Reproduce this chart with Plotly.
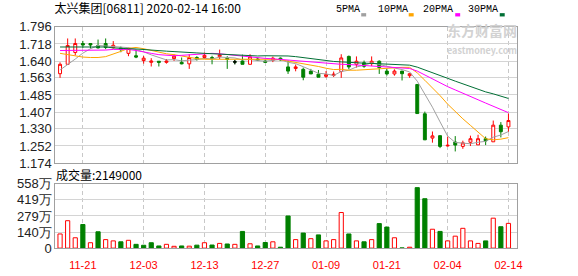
import plotly.graph_objects as go

# ---------------- data ----------------
dates = [
    "2019-11-18", "2019-11-19", "2019-11-20", "2019-11-21", "2019-11-22", "2019-11-25", "2019-11-26",
    "2019-11-27", "2019-11-28", "2019-11-29", "2019-12-02", "2019-12-03", "2019-12-04", "2019-12-05",
    "2019-12-06", "2019-12-09", "2019-12-10", "2019-12-11", "2019-12-12", "2019-12-13", "2019-12-16",
    "2019-12-17", "2019-12-18", "2019-12-19", "2019-12-20", "2019-12-23", "2019-12-24", "2019-12-27",
    "2019-12-30", "2019-12-31", "2020-01-02", "2020-01-03", "2020-01-06", "2020-01-07", "2020-01-08",
    "2020-01-09", "2020-01-10", "2020-01-13", "2020-01-14", "2020-01-15", "2020-01-16", "2020-01-17",
    "2020-01-20", "2020-01-21", "2020-01-22", "2020-01-23", "2020-01-24", "2020-01-29", "2020-01-30",
    "2020-01-31", "2020-02-03", "2020-02-04", "2020-02-05", "2020-02-06", "2020-02-07", "2020-02-10",
    "2020-02-11", "2020-02-12", "2020-02-13", "2020-02-14",
]
opens = [1.582, 1.625, 1.679, 1.720, 1.720, 1.711, 1.720, 1.701, 1.700, 1.675,
         1.664, 1.642, 1.634, 1.639, 1.634, 1.651, 1.634, 1.627, 1.656, 1.656,
         1.656, 1.660, 1.652, 1.636, 1.640, 1.625, 1.649, 1.640, 1.643, 1.653,
         1.613, 1.606, 1.602, 1.594, 1.580, 1.570, 1.574, 1.592, 1.661, 1.625,
         1.632, 1.628, 1.639, 1.594, 1.581, 1.594, 1.573, 1.533, 1.399, 1.288,
         1.299, 1.252, 1.270, 1.250, 1.269, 1.257, 1.285, 1.271, 1.347, 1.339]
highs = [1.634, 1.743, 1.743, 1.732, 1.720, 1.738, 1.743, 1.731, 1.706, 1.701,
         1.692, 1.663, 1.653, 1.639, 1.649, 1.671, 1.656, 1.671, 1.662, 1.679,
         1.664, 1.692, 1.662, 1.645, 1.669, 1.671, 1.656, 1.647, 1.660, 1.656,
         1.642, 1.624, 1.610, 1.604, 1.599, 1.594, 1.592, 1.671, 1.665, 1.661,
         1.642, 1.661, 1.643, 1.606, 1.602, 1.594, 1.584, 1.533, 1.409, 1.318,
         1.299, 1.295, 1.297, 1.276, 1.299, 1.303, 1.295, 1.368, 1.361, 1.400]
lows = [1.563, 1.622, 1.666, 1.700, 1.697, 1.697, 1.694, 1.697, 1.680, 1.662,
        1.653, 1.628, 1.615, 1.615, 1.628, 1.640, 1.625, 1.604, 1.642, 1.649,
        1.625, 1.649, 1.604, 1.625, 1.625, 1.625, 1.640, 1.632, 1.635, 1.642,
        1.581, 1.593, 1.552, 1.581, 1.566, 1.563, 1.567, 1.563, 1.602, 1.610,
        1.609, 1.617, 1.581, 1.573, 1.573, 1.551, 1.563, 1.400, 1.279, 1.267,
        1.242, 1.250, 1.227, 1.239, 1.252, 1.257, 1.256, 1.271, 1.291, 1.316]
closes = [1.625, 1.711, 1.720, 1.713, 1.713, 1.700, 1.702, 1.712, 1.692, 1.697,
          1.658, 1.653, 1.640, 1.634, 1.640, 1.662, 1.627, 1.656, 1.647, 1.666,
          1.651, 1.668, 1.647, 1.636, 1.625, 1.659, 1.643, 1.634, 1.653, 1.645,
          1.594, 1.613, 1.566, 1.581, 1.566, 1.578, 1.580, 1.654, 1.613, 1.639,
          1.616, 1.639, 1.610, 1.581, 1.594, 1.582, 1.582, 1.400, 1.280, 1.298,
          1.250, 1.255, 1.256, 1.266, 1.285, 1.285, 1.275, 1.347, 1.317, 1.368]
volumes = [1230000, 2380000, 900000, 2050000, 470000, 1420000, 740000, 630000, 550000, 680000,
           330000, 250000, 470000, 190000, 330000, 160000, 190000, 170000, 260000, 470000,
           270000, 410000, 360000, 330000, 1450000, 380000, 190000, 490000, 550000, 80000,
           2790000, 740000, 1310000, 820000, 1150000, 630000, 740000, 3090000, 1230000, 630000,
           550000, 740000, 2130000, 1830000, 900000, 20000, 80000, 5250000, 4290000, 1640000,
           1450000, 630000, 1040000, 1720000, 630000, 410000, 630000, 2600000, 1860000, 2149000]
ma5 = [1.599, 1.622, 1.649, 1.676, 1.696, 1.711, 1.709, 1.708, 1.704, 1.701,
       1.692, 1.682, 1.668, 1.656, 1.645, 1.646, 1.641, 1.644, 1.646, 1.652,
       1.649, 1.658, 1.656, 1.654, 1.645, 1.647, 1.642, 1.639, 1.643, 1.647,
       1.634, 1.628, 1.614, 1.600, 1.584, 1.581, 1.574, 1.592, 1.598, 1.613,
       1.620, 1.632, 1.623, 1.617, 1.608, 1.601, 1.590, 1.548, 1.488, 1.429,
       1.362, 1.297, 1.268, 1.265, 1.262, 1.269, 1.273, 1.292, 1.302, 1.318]
ma10 = [1.675, 1.669, 1.662, 1.658, 1.656, 1.656, 1.660, 1.671, 1.684, 1.698,
        1.702, 1.696, 1.688, 1.680, 1.673, 1.669, 1.662, 1.656, 1.651, 1.648,
        1.648, 1.649, 1.650, 1.650, 1.649, 1.648, 1.650, 1.648, 1.648, 1.646,
        1.640, 1.635, 1.627, 1.621, 1.615, 1.607, 1.601, 1.602, 1.598, 1.598,
        1.600, 1.603, 1.607, 1.607, 1.610, 1.611, 1.611, 1.586, 1.552, 1.518,
        1.482, 1.443, 1.408, 1.376, 1.346, 1.316, 1.285, 1.280, 1.283, 1.290]
ma20 = [1.688, 1.688, 1.688, 1.688, 1.689, 1.689, 1.690, 1.693, 1.694, 1.693,
        1.688, 1.680, 1.675, 1.669, 1.665, 1.664, 1.666, 1.668, 1.671, 1.673,
        1.675, 1.673, 1.669, 1.665, 1.661, 1.659, 1.656, 1.652, 1.650, 1.647,
        1.644, 1.642, 1.638, 1.636, 1.632, 1.628, 1.626, 1.625, 1.624, 1.622,
        1.621, 1.619, 1.617, 1.615, 1.613, 1.609, 1.606, 1.594, 1.576, 1.558,
        1.541, 1.523, 1.508, 1.492, 1.478, 1.463, 1.448, 1.433, 1.418, 1.404]
ma30 = [1.704, 1.704, 1.704, 1.704, 1.704, 1.704, 1.704, 1.700, 1.697, 1.696,
        1.695, 1.692, 1.688, 1.686, 1.685, 1.683, 1.680, 1.678, 1.677, 1.675,
        1.673, 1.671, 1.668, 1.666, 1.664, 1.663, 1.663, 1.664, 1.664, 1.664,
        1.663, 1.660, 1.655, 1.650, 1.646, 1.642, 1.638, 1.636, 1.633, 1.631,
        1.630, 1.629, 1.628, 1.626, 1.625, 1.622, 1.621, 1.612, 1.600, 1.588,
        1.574, 1.561, 1.548, 1.535, 1.524, 1.511, 1.499, 1.490, 1.478, 1.469]

price_tick_labels = ["1.796", "1.718", "1.640", "1.563", "1.485", "1.407", "1.330", "1.252", "1.174"]
vol_tick_values = [0, 1395000, 2790000, 4185000, 5580000]
vol_tick_labels = ["0", "140万", "279万", "419万", "558万"]
x_tick_dates = ["2019-11-21", "2019-12-03", "2019-12-13", "2019-12-27",
                "2020-01-09", "2020-01-21", "2020-02-04", "2020-02-14"]
x_tick_labels = ["11-21", "12-03", "12-13", "12-27", "01-09", "01-21", "02-04", "02-14"]
ma_names = ["5PMA", "10PMA", "20PMA", "30PMA"]
title_text = "太兴集团[06811] 2020-02-14 16:00"

# ---------------- styling ----------------
W, H = 578, 276
RED = "#ff0000"
GREEN = "#008000"
MA_COLORS = ["#a0a0a0", "#ffa500", "#ff00ff", "#006f35"]
FRAME = "#a0a0a0"
GRID = "#d4d4d4"
VGRID = "#c8c8c8"
TXT = "#222222"
CJK = "Noto Sans CJK SC"
SANS = "Liberation Sans, Arial"

def fx(p):
    return p / W

def fy(p):
    return 1 - p / H

n = len(dates)
fig = go.Figure()

fig.add_trace(go.Candlestick(
    x=dates, open=opens, high=highs, low=lows, close=closes,
    increasing=dict(line=dict(color=RED, width=1), fillcolor="white"),
    decreasing=dict(line=dict(color=GREEN, width=1), fillcolor=GREEN),
    whiskerwidth=0, hoverinfo="skip", showlegend=False, xaxis="x", yaxis="y"))

doji = [i for i in range(n) if opens[i] == closes[i]]
if doji:
    fig.add_trace(go.Candlestick(
        x=[dates[i] for i in doji], open=[opens[i] for i in doji], high=[highs[i] for i in doji],
        low=[lows[i] for i in doji], close=[closes[i] for i in doji],
        increasing=dict(line=dict(color="black", width=1), fillcolor="black"),
        decreasing=dict(line=dict(color="black", width=1), fillcolor="black"),
        whiskerwidth=0, hoverinfo="skip", showlegend=False, xaxis="x", yaxis="y"))

for vals, col in zip([ma5, ma10, ma20, ma30], MA_COLORS):
    fig.add_trace(go.Scatter(x=dates, y=vals, mode="lines", line=dict(color=col, width=1),
                             hoverinfo="skip", showlegend=False, xaxis="x", yaxis="y"))

vol_up = []
for i in range(n):
    if i == 0:
        vol_up.append(closes[i] >= opens[i])
    elif closes[i] == opens[i]:
        vol_up.append(True)
    else:
        vol_up.append(closes[i] >= closes[i - 1])

fig.add_trace(go.Bar(
    x=dates, y=volumes, width=0.55,
    marker=dict(color=["white" if u else GREEN for u in vol_up],
                line=dict(color=[RED if u else GREEN for u in vol_up], width=1)),
    hoverinfo="skip", showlegend=False, xaxis="x2", yaxis="y2"))

xrange = [-0.61, n - 1 + 1.07]
xdom = [fx(56), fx(522)]
common_x = dict(type="category", range=xrange, domain=xdom, showgrid=True, gridcolor=VGRID,
                griddash="4px,3px", gridwidth=1, tickvals=x_tick_dates, ticktext=x_tick_labels,
                showline=True, linecolor=FRAME, linewidth=1, mirror=True, zeroline=False,
                ticks="", fixedrange=True)

fig.update_layout(
    width=W, height=H, margin=dict(l=0, r=0, t=0, b=0),
    paper_bgcolor="white", plot_bgcolor="white", showlegend=False, boxgap=0.45,
    title=dict(text=title_text, x=fx(55), xanchor="left", xref="paper",
               y=fy(9), yanchor="middle", yref="container",
               font=dict(size=12, color="black", family=CJK)),
    xaxis=dict(**common_x, anchor="y", showticklabels=False, rangeslider=dict(visible=False)),
    xaxis2=dict(**common_x, anchor="y2", showticklabels=True, ticklabelstandoff=7,
                tickfont=dict(color=RED, size=11, family=SANS)),
    yaxis=dict(domain=[fy(165), fy(21)], range=[float(price_tick_labels[-1]), float(price_tick_labels[0])],
               tickvals=[float(t) for t in price_tick_labels], ticktext=price_tick_labels,
               showgrid=True, gridcolor=GRID, showline=True, linecolor=FRAME, mirror=True,
               zeroline=False, ticks="", tickfont=dict(size=13, color=TXT, family=SANS), fixedrange=True),
    yaxis2=dict(domain=[fy(255), fy(187)], range=[vol_tick_values[0], vol_tick_values[-1]],
                tickvals=vol_tick_values, ticktext=vol_tick_labels,
                showgrid=True, gridcolor=GRID, showline=True, linecolor=FRAME, mirror=True,
                zeroline=False, ticks="", tickfont=dict(size=13, color=TXT, family=SANS), fixedrange=True),
)

annotations = [
    dict(text="成交量:" + str(volumes[-1]), x=fx(55), y=fy(177), xanchor="left", yanchor="middle",
         font=dict(size=12, color="black", family=CJK)),
    dict(text="<b>东方财富网</b><br><span style='font-size:9px'><b>eastmoney.com</b></span>",
         x=fx(487), y=fy(33), xanchor="center", yanchor="middle",
         font=dict(size=14, color="#d2d2d2", family=CJK)),
]
legend_x = [338, 380, 425, 471]
square_x = [365, 413, 460, 505]
shapes = []
for name, lx, sx, col in zip(ma_names, legend_x, square_x, MA_COLORS):
    annotations.append(dict(text=name, x=fx(lx), y=fy(3), xanchor="left", yanchor="middle",
                            font=dict(size=10, color="black", family="Liberation Mono")))
    shapes.append(dict(type="rect", xref="paper", yref="paper", x0=fx(sx), x1=fx(sx + 5),
                       y0=fy(10), y1=fy(6.5), fillcolor=col, line=dict(width=0)))
for a in annotations:
    a.update(xref="paper", yref="paper", showarrow=False)
fig.update_layout(annotations=annotations, shapes=shapes)

fig.write_html("out.html")
